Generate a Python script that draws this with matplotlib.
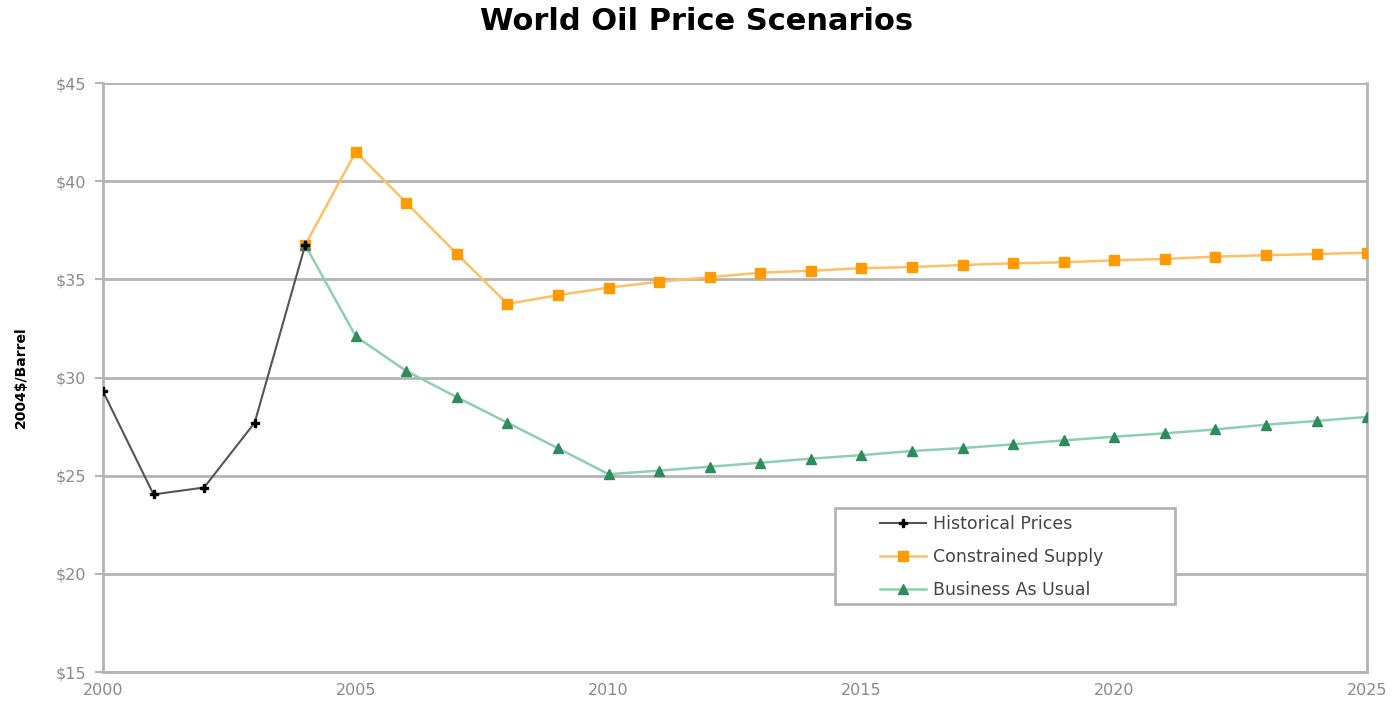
import matplotlib
matplotlib.use('Agg')
import matplotlib.pyplot as plt
import matplotlib.ticker as mticker
from matplotlib.patches import Rectangle

plt.rcParams['font.family'] = ['DejaVu Sans']

# Data (2004 $/barrel)
hist_years = [2000, 2001, 2002, 2003, 2004]
hist_prices = [29.3, 24.05, 24.4, 27.7, 36.75]

scen_years = list(range(2004, 2026))
constrained = [36.75, 41.5, 38.9, 36.3, 33.75, 34.2, 34.58, 34.88, 35.11,
               35.34, 35.44, 35.57, 35.63, 35.73, 35.82, 35.87, 35.97,
               36.04, 36.16, 36.23, 36.29, 36.36]
business = [36.75, 32.1, 30.33, 29.0, 27.7, 26.4, 25.08, 25.26, 25.46,
            25.66, 25.87, 26.05, 26.26, 26.41, 26.6, 26.8, 26.99, 27.16,
            27.36, 27.6, 27.79, 28.0]

labels = ['Historical Prices', 'Constrained Supply', 'Business As Usual']

fig = plt.figure(figsize=(13.95, 7.06), dpi=100)
ax = fig.add_axes([0.0738, 0.048, 0.9062, 0.8344])

grid_c = '#b4b4b4'
tick_c = '#8a8a8a'

ax.plot(hist_years, hist_prices, color='#555555', lw=1.5, marker='P',
        ms=6, mfc='black', mec='black', label=labels[0], zorder=4)
ax.plot(scen_years, constrained, color='#ffbf66', lw=1.8, marker='s',
        ms=7.5, mfc='#ff9a00', mec='#ff9a00', label=labels[1], zorder=3)
ax.plot(scen_years, business, color='#8fcfb0', lw=1.8, marker='^',
        ms=7, mfc='#2e8b5c', mec='#2e8b5c', label=labels[2], zorder=3)

ax.set_xlim(2000, 2025)
ax.set_ylim(15, 45)
ax.xaxis.set_major_locator(mticker.MultipleLocator(5))
ax.yaxis.set_major_locator(mticker.MultipleLocator(5))
ax.yaxis.set_major_formatter(mticker.FuncFormatter(lambda v, p: f'${v:.0f}'))

ax.grid(axis='y', color=grid_c, lw=2, zorder=0)
ax.set_axisbelow(True)
for side in ['left', 'right', 'bottom']:
    ax.spines[side].set_color(grid_c)
    ax.spines[side].set_linewidth(2)
ax.spines['top'].set_visible(False)

ax.tick_params(axis='y', colors=grid_c, labelcolor=tick_c, length=6,
               width=1.5, labelsize=11.5, pad=6)
ax.tick_params(axis='x', colors=grid_c, labelcolor=tick_c, length=0,
               labelsize=11.5, pad=8)

ax.set_ylabel('2004$/Barrel', fontsize=10, fontweight='bold', labelpad=20)
fig.suptitle('World Oil Price Scenarios', fontsize=22, fontweight='bold',
             x=0.499, y=0.99)

# legend box drawn separately so the entries can sit centred inside it
ax.add_patch(Rectangle((0.579, 0.1155), 0.269, 0.163, transform=ax.transAxes,
                       facecolor='white', edgecolor=grid_c, lw=2, zorder=5))
leg = ax.legend(loc='center', bbox_to_anchor=(0.703, 0.195), fontsize=12.5,
                frameon=False, handlelength=2.7, handletextpad=0.4,
                labelspacing=0.85, borderpad=0)
leg.set_zorder(6)
for t in leg.get_texts():
    t.set_color('#444444')

fig.savefig('out.png', dpi=100)
